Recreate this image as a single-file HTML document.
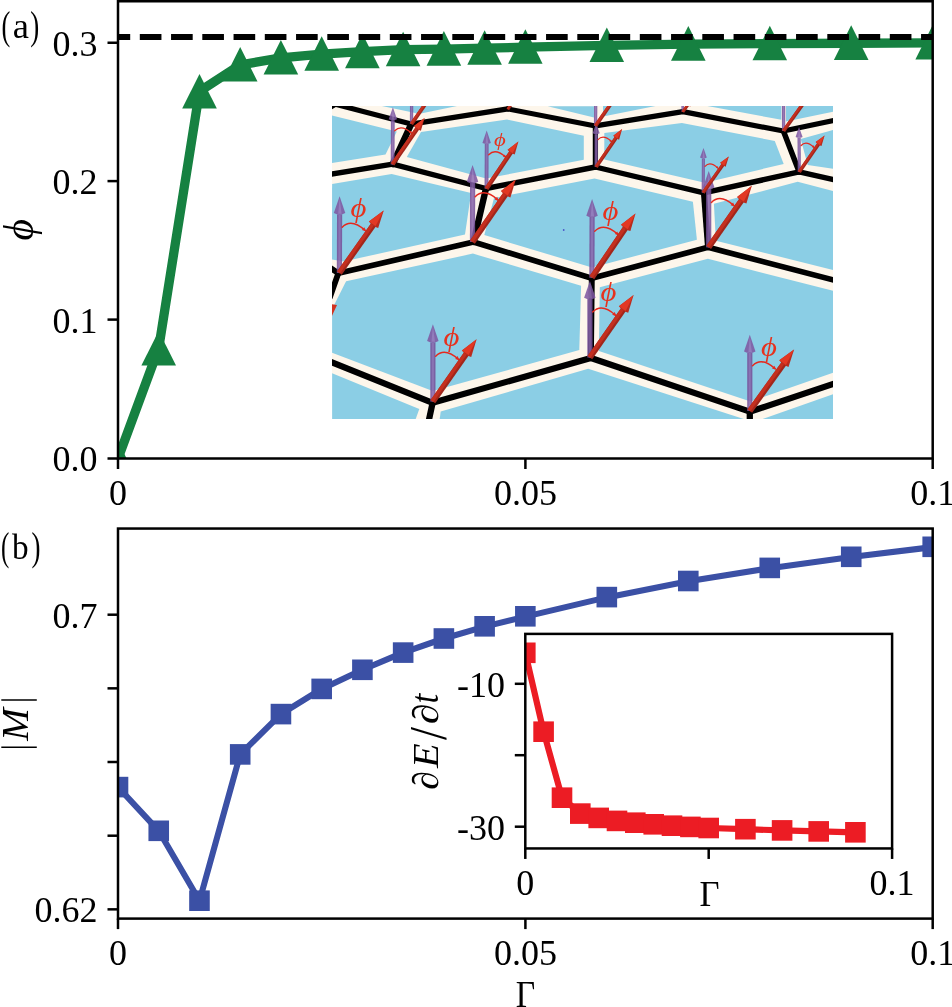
<!DOCTYPE html>
<html><head><meta charset="utf-8"><title>figure</title><style>html,body{margin:0;padding:0;background:#fff;}body{width:952px;height:1007px;overflow:hidden;}svg{display:block;will-change:transform;}text{font-family:"Liberation Serif",serif;fill:#000;}.it{font-style:italic;}</style></head><body>
<svg width="952" height="1007" viewBox="0 0 952 1007">
<rect width="952" height="1007" fill="#fff"/>
<defs>
<clipPath id="ca"><rect x="118.0" y="1.25" width="814.7" height="457.25"/></clipPath>
<clipPath id="ci"><rect x="332.0" y="105.9" width="501.0" height="313.0"/></clipPath>
<clipPath id="cb"><rect x="118.0" y="528.55" width="814.7" height="390.05000000000007"/></clipPath>
<clipPath id="cj"><rect x="525.3" y="633.9" width="366.80000000000007" height="214.55000000000007"/></clipPath>
</defs>
<g clip-path="url(#ci)">
<rect x="332.0" y="105.9" width="501.0" height="313.0" fill="#FDF6EB"/>
<polygon points="332.0,115.5 396.8,131.5 385.5,154.6 332.0,163.0" fill="#8BCEE5"/>
<polygon points="381.9,106.0 413.0,112.4 418.5,114.0 457.0,106.0" fill="#8BCEE5"/>
<polygon points="421.0,132.0 507.0,119.6 583.8,135.7 583.8,159.8 486.0,178.5 406.8,157.1" fill="#8BCEE5"/>
<polygon points="332.1,183.9 391.6,174.1 471.1,192.9 465.0,234.4 343.5,261.6 332.0,259.5" fill="#8BCEE5"/>
<polygon points="547.7,106.2 594.0,117.5 594.0,106.2" fill="#8BCEE5"/>
<polygon points="603.0,106.0 603.0,116.4 655.5,106.0" fill="#8BCEE5"/>
<polygon points="604.3,133.0 681.9,123.0 774.8,140.9 783.7,163.9 704.9,182.8 604.3,159.4" fill="#8BCEE5"/>
<polygon points="594.5,178.6 692.9,201.8 696.9,239.7 592.0,267.5 484.3,235.0 494.0,198.0" fill="#8BCEE5"/>
<polygon points="707.3,106.0 781.4,119.8 781.4,106.0" fill="#8BCEE5"/>
<polygon points="786.0,106.0 833.2,106.0 833.2,111.8 786.0,121.5" fill="#8BCEE5"/>
<polygon points="800.7,138.9 833.2,130.0 833.2,168.9 807.7,164.9" fill="#8BCEE5"/>
<polygon points="797.7,181.8 833.2,191.0 833.2,270.0 715.9,240.7 713.9,203.8" fill="#8BCEE5"/>
<polygon points="346.1,281.2 472.9,253.6 581.1,285.7 579.3,350.0 432.7,391.1 332.1,352.7 332.1,309.0" fill="#8BCEE5"/>
<polygon points="332.1,373.2 419.3,408.9 415.7,419.0 332.1,419.0" fill="#8BCEE5"/>
<polygon points="440.7,411.6 588.2,368.8 743.8,419.0 439.7,419.0" fill="#8BCEE5"/>
<polygon points="599.8,287.3 707.9,258.8 833.2,290.9 833.2,372.7 750.5,401.6 598.9,350.9" fill="#8BCEE5"/>
<polygon points="762.6,419.0 833.2,394.2 833.2,419.0" fill="#8BCEE5"/>
<g stroke="#000" stroke-linecap="round" fill="none">
<line x1="335.5" y1="104.3" x2="411.2" y2="124.1" stroke-width="5.20"/>
<line x1="335.5" y1="104.3" x2="329.0" y2="107.8" stroke-width="5.20"/>
<line x1="411.2" y1="124.1" x2="507.9" y2="108.9" stroke-width="5.14"/>
<line x1="507.9" y1="108.9" x2="595.4" y2="125.9" stroke-width="5.14"/>
<line x1="595.4" y1="125.9" x2="682.9" y2="111.6" stroke-width="5.15"/>
<line x1="682.9" y1="111.6" x2="783.4" y2="131.0" stroke-width="5.16"/>
<line x1="783.4" y1="131.0" x2="836.0" y2="120.0" stroke-width="5.17"/>
<line x1="411.2" y1="124.1" x2="392.7" y2="164.2" stroke-width="6.40"/>
<line x1="392.7" y1="164.2" x2="330.0" y2="174.3" stroke-width="5.34"/>
<line x1="392.7" y1="164.2" x2="486.0" y2="188.5" stroke-width="5.37"/>
<line x1="486.0" y1="188.5" x2="595.4" y2="167.0" stroke-width="5.38"/>
<line x1="595.4" y1="125.9" x2="595.4" y2="167.0" stroke-width="5.26"/>
<line x1="595.4" y1="167.0" x2="703.9" y2="192.8" stroke-width="5.38"/>
<line x1="703.9" y1="192.8" x2="799.2" y2="171.9" stroke-width="5.39"/>
<line x1="783.4" y1="131.0" x2="799.2" y2="171.9" stroke-width="5.50"/>
<line x1="799.2" y1="171.9" x2="836.0" y2="180.1" stroke-width="5.37"/>
<line x1="486.0" y1="188.5" x2="473.5" y2="242.0" stroke-width="6.40"/>
<line x1="473.5" y1="242.0" x2="338.3" y2="273.2" stroke-width="5.68"/>
<line x1="338.3" y1="273.2" x2="330.0" y2="297.0" stroke-width="5.79"/>
<line x1="338.3" y1="273.2" x2="329.0" y2="267.0" stroke-width="5.73"/>
<line x1="473.5" y1="242.0" x2="591.8" y2="278.2" stroke-width="5.69"/>
<line x1="591.8" y1="278.2" x2="708.0" y2="247.3" stroke-width="5.70"/>
<line x1="703.9" y1="192.8" x2="708.0" y2="247.3" stroke-width="6.00"/>
<line x1="708.0" y1="247.3" x2="836.0" y2="280.7" stroke-width="5.71"/>
<line x1="591.8" y1="278.2" x2="590.9" y2="358.0" stroke-width="5.91"/>
<line x1="590.9" y1="358.0" x2="432.6" y2="402.8" stroke-width="6.15"/>
<line x1="432.6" y1="402.8" x2="330.0" y2="361.6" stroke-width="6.16"/>
<line x1="432.6" y1="402.8" x2="428.7" y2="421.0" stroke-width="6.27"/>
<line x1="590.9" y1="358.0" x2="749.8" y2="411.7" stroke-width="6.17"/>
<line x1="749.8" y1="411.7" x2="836.0" y2="383.1" stroke-width="6.22"/>
<line x1="749.8" y1="411.7" x2="749.8" y2="421.0" stroke-width="6.29"/>
</g>
<circle cx="563.7" cy="230" r="0.9" fill="#4a55c8"/>
<g opacity="0.87"><line x1="339.4" y1="273.0" x2="339.6" y2="214.3" stroke="#77529A" stroke-width="5.2"/><line x1="339.4" y1="273.0" x2="339.6" y2="214.3" stroke="#8966AC" stroke-width="2.1"/><path d="M339.6,196.3 L333.8,213.0 Q339.6,216.0 345.3,213.0 Z" fill="#7F58A2"/><path d="M339.6,198.3 L338.2,213.8 L341.6,213.8 Z" fill="#9472B6"/></g>
<g opacity="0.87"><line x1="392.6" y1="164.4" x2="392.8" y2="120.3" stroke="#77529A" stroke-width="3.8"/><line x1="392.6" y1="164.4" x2="392.8" y2="120.3" stroke="#8966AC" stroke-width="1.5"/><path d="M392.9,107.2 L388.7,119.2 Q392.8,121.4 397.0,119.2 Z" fill="#7F58A2"/><path d="M392.9,108.6 L391.8,119.8 L394.3,119.8 Z" fill="#9472B6"/></g>
<g opacity="0.87"><line x1="411.5" y1="124.1" x2="411.7" y2="91.3" stroke="#77529A" stroke-width="3.3"/><line x1="411.5" y1="124.1" x2="411.7" y2="91.3" stroke="#8966AC" stroke-width="1.3"/><path d="M411.8,80.0 L408.1,90.4 Q411.7,92.2 415.3,90.4 Z" fill="#7F58A2"/><path d="M411.8,81.2 L410.9,90.8 L413.0,90.8 Z" fill="#9472B6"/></g>
<g opacity="0.87"><line x1="486.5" y1="188.7" x2="486.7" y2="144.0" stroke="#77529A" stroke-width="3.9"/><line x1="486.5" y1="188.7" x2="486.7" y2="144.0" stroke="#8966AC" stroke-width="1.6"/><path d="M486.7,130.6 L482.4,143.0 Q486.7,145.2 490.9,143.0 Z" fill="#7F58A2"/><path d="M486.7,132.1 L485.6,143.5 L488.2,143.5 Z" fill="#9472B6"/></g>
<g opacity="0.87"><line x1="472.5" y1="242.0" x2="472.6" y2="183.0" stroke="#77529A" stroke-width="5.2"/><line x1="472.5" y1="242.0" x2="472.6" y2="183.0" stroke="#8966AC" stroke-width="2.1"/><path d="M472.6,165.0 L466.8,181.7 Q472.6,184.7 478.3,181.7 Z" fill="#7F58A2"/><path d="M472.6,167.0 L471.2,182.5 L474.6,182.5 Z" fill="#9472B6"/></g>
<g opacity="0.87"><line x1="595.6" y1="125.9" x2="595.7" y2="91.3" stroke="#77529A" stroke-width="3.3"/><line x1="595.6" y1="125.9" x2="595.7" y2="91.3" stroke="#8966AC" stroke-width="1.3"/><path d="M595.7,80.0 L592.1,90.4 Q595.7,92.2 599.3,90.4 Z" fill="#7F58A2"/><path d="M595.7,81.2 L594.8,90.8 L597.0,90.8 Z" fill="#9472B6"/></g>
<g opacity="0.87"><line x1="596.2" y1="167.0" x2="596.2" y2="134.2" stroke="#77529A" stroke-width="3.2"/><line x1="596.2" y1="167.0" x2="596.2" y2="134.2" stroke="#8966AC" stroke-width="1.3"/><path d="M596.2,123.2 L592.7,133.2 Q596.2,135.0 599.7,133.2 Z" fill="#7F58A2"/><path d="M596.2,124.4 L595.4,133.7 L597.5,133.7 Z" fill="#9472B6"/></g>
<g opacity="0.87"><line x1="591.9" y1="277.7" x2="592.1" y2="217.1" stroke="#77529A" stroke-width="5.2"/><line x1="591.9" y1="277.7" x2="592.1" y2="217.1" stroke="#8966AC" stroke-width="2.1"/><path d="M592.1,199.1 L586.3,215.8 Q592.1,218.8 597.8,215.8 Z" fill="#7F58A2"/><path d="M592.1,201.1 L590.7,216.6 L594.1,216.6 Z" fill="#9472B6"/></g>
<g opacity="0.87"><line x1="703.2" y1="192.8" x2="703.4" y2="158.5" stroke="#77529A" stroke-width="3.1"/><line x1="703.2" y1="192.8" x2="703.4" y2="158.5" stroke="#8966AC" stroke-width="1.2"/><path d="M703.5,147.9 L700.0,157.6 Q703.4,159.3 706.8,157.6 Z" fill="#7F58A2"/><path d="M703.5,149.1 L702.6,158.0 L704.7,158.0 Z" fill="#9472B6"/></g>
<g opacity="0.87"><line x1="708.7" y1="247.4" x2="708.7" y2="188.9" stroke="#77529A" stroke-width="5.2"/><line x1="708.7" y1="247.4" x2="708.7" y2="188.9" stroke="#8966AC" stroke-width="2.1"/><path d="M708.7,170.9 L703.0,187.6 Q708.7,190.6 714.5,187.6 Z" fill="#7F58A2"/><path d="M708.7,172.9 L707.3,188.4 L710.8,188.4 Z" fill="#9472B6"/></g>
<g opacity="0.87"><line x1="783.6" y1="131.0" x2="783.6" y2="91.3" stroke="#77529A" stroke-width="3.3"/><line x1="783.6" y1="131.0" x2="783.6" y2="91.3" stroke="#8966AC" stroke-width="1.3"/><path d="M783.6,80.0 L780.0,90.4 Q783.6,92.2 787.2,90.4 Z" fill="#7F58A2"/><path d="M783.6,81.2 L782.7,90.8 L784.9,90.8 Z" fill="#9472B6"/></g>
<g opacity="0.87"><line x1="799.3" y1="172.0" x2="799.1" y2="137.9" stroke="#77529A" stroke-width="3.2"/><line x1="799.3" y1="172.0" x2="799.1" y2="137.9" stroke="#8966AC" stroke-width="1.3"/><path d="M799.0,126.9 L795.6,136.9 Q799.1,138.7 802.6,136.9 Z" fill="#7F58A2"/><path d="M799.0,128.1 L798.2,137.4 L800.3,137.4 Z" fill="#9472B6"/></g>
<g opacity="0.87"><line x1="682.9" y1="112.0" x2="682.6" y2="101.2" stroke="#77529A" stroke-width="2.7"/><line x1="682.9" y1="112.0" x2="682.6" y2="101.2" stroke="#8966AC" stroke-width="1.1"/><path d="M682.4,92.0 L679.7,100.3 Q682.6,101.8 685.6,100.3 Z" fill="#7F58A2"/><path d="M682.4,93.0 L681.9,100.7 L683.7,100.7 Z" fill="#9472B6"/></g>
<g opacity="0.87"><line x1="432.9" y1="401.6" x2="432.9" y2="342.3" stroke="#77529A" stroke-width="5.2"/><line x1="432.9" y1="401.6" x2="432.9" y2="342.3" stroke="#8966AC" stroke-width="2.1"/><path d="M432.9,324.3 L427.1,341.0 Q432.9,344.0 438.6,341.0 Z" fill="#7F58A2"/><path d="M432.9,326.3 L431.5,341.8 L435.0,341.8 Z" fill="#9472B6"/></g>
<g opacity="0.87"><line x1="589.9" y1="357.6" x2="589.9" y2="299.0" stroke="#77529A" stroke-width="5.2"/><line x1="589.9" y1="357.6" x2="589.9" y2="299.0" stroke="#8966AC" stroke-width="2.1"/><path d="M589.9,281.0 L584.1,297.7 Q589.9,300.7 595.6,297.7 Z" fill="#7F58A2"/><path d="M589.9,283.0 L588.5,298.5 L592.0,298.5 Z" fill="#9472B6"/></g>
<g opacity="0.87"><line x1="749.8" y1="411.0" x2="749.8" y2="352.8" stroke="#77529A" stroke-width="5.2"/><line x1="749.8" y1="411.0" x2="749.8" y2="352.8" stroke="#8966AC" stroke-width="2.1"/><path d="M749.8,334.8 L744.0,351.5 Q749.8,354.5 755.5,351.5 Z" fill="#7F58A2"/><path d="M749.8,336.8 L748.4,352.3 L751.9,352.3 Z" fill="#9472B6"/></g>
<path d="M342.2,227.2 Q351.3,217.9 365.1,230.4" stroke="#E6281D" stroke-width="1.45" fill="none" stroke-linecap="round"/><polygon points="366.2,231.3 361.9,229.9 364.3,227.2" fill="#E6281D"/>
<g><line x1="339.4" y1="273.0" x2="374.2" y2="223.9" stroke="#A1261B" stroke-width="5.7"/><line x1="338.6" y1="272.4" x2="373.3" y2="223.3" stroke="#C42F1F" stroke-width="3.5"/><path d="M383.7,210.4 L368.9,221.4 Q372.4,226.3 378.2,228.0 Z" fill="#B92B1D"/><path d="M383.7,210.4 L368.9,221.4 L375.6,226.1 Z" fill="#E23823"/></g>
<text class="it" style="fill:#E6321E" transform="translate(350.60,216.79) scale(0.8526,0.7442)" font-size="36">ϕ</text>
<path d="M394.7,130.8 Q401.3,123.9 411.4,133.1" stroke="#E6281D" stroke-width="1.30" fill="none" stroke-linecap="round"/><polygon points="412.2,133.8 409.0,132.7 410.9,130.7" fill="#E6281D"/>
<g><line x1="392.6" y1="164.4" x2="418.0" y2="127.5" stroke="#A1261B" stroke-width="4.2"/><line x1="392.0" y1="164.0" x2="417.4" y2="127.1" stroke="#C42F1F" stroke-width="2.6"/><path d="M424.6,118.0 L414.0,126.0 Q416.6,129.6 420.9,130.7 Z" fill="#B92B1D"/><path d="M424.6,118.0 L414.0,126.0 L419.0,129.4 Z" fill="#E23823"/></g>
<g><line x1="411.5" y1="124.1" x2="431.0" y2="96.1" stroke="#A1261B" stroke-width="3.6"/><line x1="411.0" y1="123.7" x2="430.4" y2="95.7" stroke="#C42F1F" stroke-width="2.3"/><path d="M436.6,88.0 L427.4,94.8 Q429.7,97.9 433.4,99.0 Z" fill="#B92B1D"/><path d="M436.6,88.0 L427.4,94.8 L431.7,97.8 Z" fill="#E23823"/></g>
<path d="M488.7,154.7 Q495.3,147.8 505.5,157.0" stroke="#E6281D" stroke-width="1.31" fill="none" stroke-linecap="round"/><polygon points="506.3,157.8 503.0,156.7 504.9,154.6" fill="#E6281D"/>
<g><line x1="486.5" y1="188.7" x2="511.7" y2="151.4" stroke="#A1261B" stroke-width="4.3"/><line x1="485.9" y1="188.3" x2="511.1" y2="151.0" stroke="#C42F1F" stroke-width="2.7"/><path d="M518.4,141.5 L507.6,149.8 Q510.3,153.5 514.7,154.6 Z" fill="#B92B1D"/><path d="M518.4,141.5 L507.6,149.8 L512.7,153.3 Z" fill="#E23823"/></g>
<text class="it" style="fill:#E6321E" transform="translate(493.91,146.41) scale(0.6310,0.5507)" font-size="36">ϕ</text>
<path d="M475.2,196.8 Q484.2,187.6 497.8,199.9" stroke="#E6281D" stroke-width="1.45" fill="none" stroke-linecap="round"/><polygon points="498.9,200.9 494.6,199.5 497.1,196.7" fill="#E6281D"/>
<g><line x1="472.5" y1="242.0" x2="506.3" y2="193.4" stroke="#A1261B" stroke-width="5.7"/><line x1="471.7" y1="241.4" x2="505.4" y2="192.8" stroke="#C42F1F" stroke-width="3.5"/><path d="M515.7,179.8 L501.0,190.9 Q504.6,195.8 510.4,197.4 Z" fill="#B92B1D"/><path d="M515.7,179.8 L501.0,190.9 L507.8,195.6 Z" fill="#E23823"/></g>
<g><line x1="507.9" y1="109.4" x2="512.6" y2="102.4" stroke="#A1261B" stroke-width="3.0"/><line x1="507.5" y1="109.1" x2="512.2" y2="102.1" stroke="#C42F1F" stroke-width="1.9"/><path d="M517.0,96.0 L509.6,101.6 Q511.5,104.1 514.5,104.9 Z" fill="#B92B1D"/><path d="M517.0,96.0 L509.6,101.6 L513.2,104.0 Z" fill="#E23823"/></g>
<g><line x1="595.6" y1="125.9" x2="616.4" y2="96.1" stroke="#A1261B" stroke-width="3.6"/><line x1="595.1" y1="125.5" x2="615.8" y2="95.7" stroke="#C42F1F" stroke-width="2.3"/><path d="M622.0,88.0 L612.8,94.8 Q615.1,97.9 618.8,99.0 Z" fill="#B92B1D"/><path d="M622.0,88.0 L612.8,94.8 L617.1,97.8 Z" fill="#E23823"/></g>
<path d="M598.0,139.6 Q603.3,134.0 611.4,141.5" stroke="#E6281D" stroke-width="1.23" fill="none" stroke-linecap="round"/><polygon points="612.1,142.1 609.3,141.2 610.9,139.4" fill="#E6281D"/>
<g><line x1="596.2" y1="167.0" x2="616.7" y2="136.9" stroke="#A1261B" stroke-width="3.5"/><line x1="595.7" y1="166.6" x2="616.2" y2="136.6" stroke="#C42F1F" stroke-width="2.2"/><path d="M622.1,129.1 L613.3,135.8 Q615.5,138.8 619.1,139.7 Z" fill="#B92B1D"/><path d="M622.1,129.1 L613.3,135.8 L617.4,138.6 Z" fill="#E23823"/></g>
<path d="M594.7,231.3 Q603.9,221.9 618.0,234.5" stroke="#E6281D" stroke-width="1.45" fill="none" stroke-linecap="round"/><polygon points="619.1,235.5 614.8,234.1 617.2,231.4" fill="#E6281D"/>
<g><line x1="591.9" y1="277.7" x2="626.2" y2="227.1" stroke="#A1261B" stroke-width="5.7"/><line x1="591.1" y1="277.1" x2="625.4" y2="226.5" stroke="#C42F1F" stroke-width="3.5"/><path d="M635.5,213.4 L621.0,224.7 Q624.6,229.5 630.4,231.1 Z" fill="#B92B1D"/><path d="M635.5,213.4 L621.0,224.7 L627.8,229.3 Z" fill="#E23823"/></g>
<text class="it" style="fill:#E6321E" transform="translate(602.40,219.79) scale(0.8526,0.7442)" font-size="36">ϕ</text>
<path d="M705.0,166.3 Q710.1,160.9 717.9,168.1" stroke="#E6281D" stroke-width="1.22" fill="none" stroke-linecap="round"/><polygon points="718.6,168.7 715.9,167.8 717.4,166.1" fill="#E6281D"/>
<g><line x1="703.2" y1="192.8" x2="723.5" y2="164.0" stroke="#A1261B" stroke-width="3.4"/><line x1="702.7" y1="192.4" x2="723.0" y2="163.6" stroke="#C42F1F" stroke-width="2.1"/><path d="M728.8,156.5 L720.2,162.8 Q722.3,165.7 725.7,166.7 Z" fill="#B92B1D"/><path d="M728.8,156.5 L720.2,162.8 L724.2,165.7 Z" fill="#E23823"/></g>
<path d="M711.4,202.5 Q720.4,193.4 733.8,205.6" stroke="#E6281D" stroke-width="1.45" fill="none" stroke-linecap="round"/><polygon points="734.9,206.6 730.6,205.2 733.1,202.4" fill="#E6281D"/>
<g><line x1="708.7" y1="247.4" x2="742.3" y2="199.3" stroke="#A1261B" stroke-width="5.7"/><line x1="707.9" y1="246.8" x2="741.5" y2="198.7" stroke="#C42F1F" stroke-width="3.5"/><path d="M751.8,185.8 L737.1,196.9 Q740.6,201.8 746.4,203.4 Z" fill="#B92B1D"/><path d="M751.8,185.8 L737.1,196.9 L743.8,201.6 Z" fill="#E23823"/></g>
<g><line x1="783.6" y1="131.0" x2="804.1" y2="102.5" stroke="#A1261B" stroke-width="3.6"/><line x1="783.1" y1="130.6" x2="803.5" y2="102.1" stroke="#C42F1F" stroke-width="2.3"/><path d="M809.8,94.5 L800.5,101.2 Q802.7,104.3 806.4,105.4 Z" fill="#B92B1D"/><path d="M809.8,94.5 L800.5,101.2 L804.8,104.2 Z" fill="#E23823"/></g>
<path d="M801.1,145.5 Q806.2,140.1 813.9,147.3" stroke="#E6281D" stroke-width="1.23" fill="none" stroke-linecap="round"/><polygon points="814.6,147.9 811.8,147.0 813.5,145.3" fill="#E6281D"/>
<g><line x1="799.3" y1="172.0" x2="819.2" y2="143.3" stroke="#A1261B" stroke-width="3.5"/><line x1="798.8" y1="171.6" x2="818.7" y2="142.9" stroke="#C42F1F" stroke-width="2.2"/><path d="M824.6,135.5 L815.7,142.1 Q817.9,145.1 821.5,146.1 Z" fill="#B92B1D"/><path d="M824.6,135.5 L815.7,142.1 L819.9,145.0 Z" fill="#E23823"/></g>
<g><line x1="682.9" y1="112.0" x2="688.6" y2="103.9" stroke="#A1261B" stroke-width="3.0"/><line x1="682.5" y1="111.7" x2="688.1" y2="103.6" stroke="#C42F1F" stroke-width="1.9"/><path d="M693.0,97.5 L685.6,103.0 Q687.4,105.5 690.4,106.4 Z" fill="#B92B1D"/><path d="M693.0,97.5 L685.6,103.0 L689.1,105.4 Z" fill="#E23823"/></g>
<path d="M435.7,356.2 Q444.7,347.0 458.4,359.3" stroke="#E6281D" stroke-width="1.45" fill="none" stroke-linecap="round"/><polygon points="459.4,360.3 455.2,358.9 457.6,356.1" fill="#E6281D"/>
<g><line x1="432.9" y1="401.6" x2="467.1" y2="352.8" stroke="#A1261B" stroke-width="5.7"/><line x1="432.1" y1="401.0" x2="466.3" y2="352.2" stroke="#C42F1F" stroke-width="3.5"/><path d="M476.6,339.3 L461.9,350.4 Q465.4,355.3 471.2,356.9 Z" fill="#B92B1D"/><path d="M476.6,339.3 L461.9,350.4 L468.6,355.1 Z" fill="#E23823"/></g>
<text class="it" style="fill:#E6321E" transform="translate(443.50,345.69) scale(0.8526,0.7442)" font-size="36">ϕ</text>
<path d="M592.7,312.1 Q601.7,302.8 615.4,315.2" stroke="#E6281D" stroke-width="1.45" fill="none" stroke-linecap="round"/><polygon points="616.5,316.2 612.2,314.8 614.7,312.0" fill="#E6281D"/>
<g><line x1="589.9" y1="357.6" x2="624.1" y2="308.6" stroke="#A1261B" stroke-width="5.7"/><line x1="589.1" y1="357.0" x2="623.3" y2="308.0" stroke="#C42F1F" stroke-width="3.5"/><path d="M633.6,295.1 L618.9,306.2 Q622.4,311.1 628.2,312.7 Z" fill="#B92B1D"/><path d="M633.6,295.1 L618.9,306.2 L625.6,310.9 Z" fill="#E23823"/></g>
<text class="it" style="fill:#E6321E" transform="translate(600.50,301.49) scale(0.8526,0.7442)" font-size="36">ϕ</text>
<path d="M752.6,365.7 Q761.6,356.5 775.2,368.8" stroke="#E6281D" stroke-width="1.45" fill="none" stroke-linecap="round"/><polygon points="776.2,369.8 772.0,368.4 774.4,365.7" fill="#E6281D"/>
<g><line x1="749.8" y1="411.0" x2="784.5" y2="362.8" stroke="#A1261B" stroke-width="5.7"/><line x1="749.0" y1="410.4" x2="783.6" y2="362.2" stroke="#C42F1F" stroke-width="3.5"/><path d="M794.1,349.4 L779.3,360.3 Q782.7,365.2 788.5,366.9 Z" fill="#B92B1D"/><path d="M794.1,349.4 L779.3,360.3 L785.9,365.1 Z" fill="#E23823"/></g>
<text class="it" style="fill:#E6321E" transform="translate(761.00,355.79) scale(0.8526,0.7442)" font-size="36">ϕ</text>
<polygon points="331,318 331,304 337,305" fill="#D2321F"/>
</g>
<g clip-path="url(#ca)">
<polyline points="118.0,458.50 158.7,348.20 199.5,91.30 240.2,64.95 280.9,57.95 321.7,54.15 362.4,51.65 403.1,49.65 443.9,49.05 484.6,48.15 525.4,47.15 606.8,45.45 688.3,44.05 769.8,43.65 851.2,43.25 932.7,42.95" fill="none" stroke="#168141" stroke-width="9.3" stroke-linejoin="miter"/>
<polygon points="118.0,441.2 100.7,475.8 135.3,475.8" fill="#168141"/>
<polygon points="158.7,330.9 141.4,365.5 176.0,365.5" fill="#168141"/>
<polygon points="199.5,74.0 182.2,108.6 216.8,108.6" fill="#168141"/>
<polygon points="240.2,47.0 222.9,81.6 257.5,81.6" fill="#168141"/>
<polygon points="280.9,40.0 263.6,74.6 298.2,74.6" fill="#168141"/>
<polygon points="321.7,36.2 304.4,70.8 339.0,70.8" fill="#168141"/>
<polygon points="362.4,33.7 345.1,68.3 379.7,68.3" fill="#168141"/>
<polygon points="403.1,31.7 385.8,66.3 420.4,66.3" fill="#168141"/>
<polygon points="443.9,31.1 426.6,65.7 461.2,65.7" fill="#168141"/>
<polygon points="484.6,30.2 467.3,64.8 501.9,64.8" fill="#168141"/>
<polygon points="525.4,29.2 508.1,63.8 542.6,63.8" fill="#168141"/>
<polygon points="606.8,27.5 589.5,62.1 624.1,62.1" fill="#168141"/>
<polygon points="688.3,26.1 671.0,60.7 705.6,60.7" fill="#168141"/>
<polygon points="769.8,25.7 752.5,60.3 787.1,60.3" fill="#168141"/>
<polygon points="851.2,25.3 833.9,59.9 868.5,59.9" fill="#168141"/>
<polygon points="932.7,25.0 915.4,59.6 950.0,59.6" fill="#168141"/>
<line x1="108.55" y1="37.1" x2="932.7" y2="37.1" stroke="#000" stroke-width="6.0" stroke-dasharray="21.65 9.6"/>
</g>
<rect x="118.0" y="1.25" width="814.7" height="457.25" fill="none" stroke="#000" stroke-width="2.5"/>
<line x1="107.5" y1="458.5" x2="118.0" y2="458.5" stroke="#000" stroke-width="2.5"/>
<text x="97.4" y="471.4" font-size="36" text-anchor="end">0.0</text>
<line x1="107.5" y1="319.6" x2="118.0" y2="319.6" stroke="#000" stroke-width="2.5"/>
<text x="97.4" y="332.5" font-size="36" text-anchor="end">0.1</text>
<line x1="107.5" y1="181.1" x2="118.0" y2="181.1" stroke="#000" stroke-width="2.5"/>
<text x="97.4" y="194.0" font-size="36" text-anchor="end">0.2</text>
<line x1="107.5" y1="42.75" x2="118.0" y2="42.75" stroke="#000" stroke-width="2.5"/>
<text x="97.4" y="55.6" font-size="36" text-anchor="end">0.3</text>
<line x1="118.0" y1="458.5" x2="118.0" y2="469.0" stroke="#000" stroke-width="2.5"/>
<text x="118.0" y="504.5" font-size="36" text-anchor="middle">0</text>
<line x1="525.4" y1="458.5" x2="525.4" y2="469.0" stroke="#000" stroke-width="2.5"/>
<text x="525.4" y="504.5" font-size="36" text-anchor="middle">0.05</text>
<line x1="932.7" y1="458.5" x2="932.7" y2="469.0" stroke="#000" stroke-width="2.5"/>
<text x="932.7" y="504.5" font-size="36" text-anchor="middle">0.1</text>
<text transform="translate(1.40,39.10) scale(0.7341,1.1087)" font-size="36">(</text>
<text transform="translate(12.70,37.95) scale(1.0135,0.9685)" font-size="36">a</text>
<text transform="translate(30.30,39.10) scale(0.7508,1.1087)" font-size="36">)</text>
<text class="it" transform="translate(33.22,240.40) rotate(-90) scale(1.1476,1.1454)" font-size="36">ϕ</text>
<g clip-path="url(#cb)">
<polyline points="118.0,787.10 158.7,830.80 199.5,900.70 240.2,754.40 280.9,714.10 321.7,688.90 362.4,669.80 403.1,652.60 443.9,638.50 484.6,626.60 525.4,616.60 606.8,597.40 688.3,581.30 769.8,568.20 851.2,557.10 932.7,547.10" fill="none" stroke="#3B50A5" stroke-width="6.1" stroke-linejoin="round"/>
<rect x="107.70" y="776.80" width="20.6" height="20.6" fill="#3B50A5"/>
<rect x="148.44" y="820.50" width="20.6" height="20.6" fill="#3B50A5"/>
<rect x="189.17" y="890.40" width="20.6" height="20.6" fill="#3B50A5"/>
<rect x="229.90" y="744.10" width="20.6" height="20.6" fill="#3B50A5"/>
<rect x="270.64" y="703.80" width="20.6" height="20.6" fill="#3B50A5"/>
<rect x="311.38" y="678.60" width="20.6" height="20.6" fill="#3B50A5"/>
<rect x="352.11" y="659.50" width="20.6" height="20.6" fill="#3B50A5"/>
<rect x="392.85" y="642.30" width="20.6" height="20.6" fill="#3B50A5"/>
<rect x="433.58" y="628.20" width="20.6" height="20.6" fill="#3B50A5"/>
<rect x="474.31" y="616.00" width="20.6" height="20.6" fill="#3B50A5"/>
<rect x="515.05" y="606.00" width="20.6" height="20.6" fill="#3B50A5"/>
<rect x="596.52" y="586.80" width="20.6" height="20.6" fill="#3B50A5"/>
<rect x="677.99" y="570.70" width="20.6" height="20.6" fill="#3B50A5"/>
<rect x="759.46" y="557.60" width="20.6" height="20.6" fill="#3B50A5"/>
<rect x="840.93" y="546.50" width="20.6" height="20.6" fill="#3B50A5"/>
<rect x="922.40" y="536.50" width="20.6" height="20.6" fill="#3B50A5"/>
</g>
<rect x="118.0" y="528.55" width="814.7" height="390.05000000000007" fill="none" stroke="#000" stroke-width="2.5"/>
<line x1="107.5" y1="614.7" x2="118.0" y2="614.7" stroke="#000" stroke-width="2.5"/>
<line x1="107.5" y1="688.35" x2="118.0" y2="688.35" stroke="#000" stroke-width="2.5"/>
<line x1="107.5" y1="762.0" x2="118.0" y2="762.0" stroke="#000" stroke-width="2.5"/>
<line x1="107.5" y1="835.7" x2="118.0" y2="835.7" stroke="#000" stroke-width="2.5"/>
<line x1="107.5" y1="909.35" x2="118.0" y2="909.35" stroke="#000" stroke-width="2.5"/>
<text x="97.4" y="627.6" font-size="36" text-anchor="end">0.7</text>
<text x="97.4" y="922.2" font-size="36" text-anchor="end">0.62</text>
<line x1="118.0" y1="918.6" x2="118.0" y2="929.1" stroke="#000" stroke-width="2.5"/>
<text x="118.0" y="964.5" font-size="36" text-anchor="middle">0</text>
<line x1="525.4" y1="918.6" x2="525.4" y2="929.1" stroke="#000" stroke-width="2.5"/>
<text x="525.4" y="964.5" font-size="36" text-anchor="middle">0.05</text>
<line x1="932.7" y1="918.6" x2="932.7" y2="929.1" stroke="#000" stroke-width="2.5"/>
<text x="932.7" y="964.5" font-size="36" text-anchor="middle">0.1</text>
<text transform="translate(515.70,1007.10) scale(0.9323,1.0433)" font-size="36">Γ</text>
<text transform="translate(0.90,559.52) scale(0.6924,1.1056)" font-size="36">(</text>
<text transform="translate(12.10,559.03) scale(0.9222,1.0140)" font-size="36">b</text>
<text transform="translate(31.40,559.52) scale(0.7508,1.1056)" font-size="36">)</text>
<text class="it" transform="translate(27.80,740.63) rotate(-90) scale(1.0880,1.0433)" font-size="36">M</text>
<line x1="1.3" y1="700" x2="36.8" y2="700" stroke="#000" stroke-width="1.5"/>
<line x1="1.3" y1="747.2" x2="36.8" y2="747.2" stroke="#000" stroke-width="1.5"/>
<rect x="525.3" y="633.9" width="366.80000000000007" height="214.55000000000007" fill="#fff"/>
<g clip-path="url(#cj)">
<polyline points="525.3,652.8 543.6,731.7 562.0,797.7 580.3,813.6 598.7,817.9 617.0,820.9 635.3,822.7 653.7,824.3 672.0,825.7 690.4,826.9 708.7,828.0 745.4,829.2 782.1,830.4 818.7,831.4 855.4,832.3" fill="none" stroke="#EC1C24" stroke-width="6.2" stroke-linejoin="round"/>
<rect x="515.0" y="642.5" width="20.6" height="20.6" fill="#EC1C24"/>
<rect x="533.3" y="721.4" width="20.6" height="20.6" fill="#EC1C24"/>
<rect x="551.7" y="787.4" width="20.6" height="20.6" fill="#EC1C24"/>
<rect x="570.0" y="803.3" width="20.6" height="20.6" fill="#EC1C24"/>
<rect x="588.4" y="807.6" width="20.6" height="20.6" fill="#EC1C24"/>
<rect x="606.7" y="810.6" width="20.6" height="20.6" fill="#EC1C24"/>
<rect x="625.0" y="812.4" width="20.6" height="20.6" fill="#EC1C24"/>
<rect x="643.4" y="814.0" width="20.6" height="20.6" fill="#EC1C24"/>
<rect x="661.7" y="815.4" width="20.6" height="20.6" fill="#EC1C24"/>
<rect x="680.1" y="816.6" width="20.6" height="20.6" fill="#EC1C24"/>
<rect x="698.4" y="817.7" width="20.6" height="20.6" fill="#EC1C24"/>
<rect x="735.1" y="818.9" width="20.6" height="20.6" fill="#EC1C24"/>
<rect x="771.8" y="820.1" width="20.6" height="20.6" fill="#EC1C24"/>
<rect x="808.4" y="821.1" width="20.6" height="20.6" fill="#EC1C24"/>
<rect x="845.1" y="822.0" width="20.6" height="20.6" fill="#EC1C24"/>
</g>
<rect x="525.3" y="633.9" width="366.80000000000007" height="214.55000000000007" fill="none" stroke="#000" stroke-width="2.5"/>
<line x1="514.8" y1="683.8" x2="525.3" y2="683.8" stroke="#000" stroke-width="2.5"/>
<line x1="514.8" y1="755.2" x2="525.3" y2="755.2" stroke="#000" stroke-width="2.5"/>
<line x1="514.8" y1="826.7" x2="525.3" y2="826.7" stroke="#000" stroke-width="2.5"/>
<text x="505" y="697.0" font-size="36" text-anchor="end">-10</text>
<text x="505" y="839.8" font-size="36" text-anchor="end">-30</text>
<line x1="525.3" y1="848.45" x2="525.3" y2="858.95" stroke="#000" stroke-width="2.5"/>
<line x1="708.7" y1="848.45" x2="708.7" y2="858.95" stroke="#000" stroke-width="2.5"/>
<line x1="892.1" y1="848.45" x2="892.1" y2="858.95" stroke="#000" stroke-width="2.5"/>
<text x="525.3" y="895.4" font-size="36" text-anchor="middle">0</text>
<text x="892.1" y="895.4" font-size="36" text-anchor="middle">0.1</text>
<text transform="translate(699.40,905.50) scale(0.9612,0.9669)" font-size="36">Γ</text>
<text class="it" transform="translate(438.33,789.80) rotate(-90) scale(1.0459,1.0104)" font-size="36">∂</text>
<text class="it" transform="translate(438.30,768.02) rotate(-90) scale(1.1191,1.0178)" font-size="36">E</text>
<text transform="translate(445.98,740.10) rotate(-90) scale(1.3090,1.4491)" font-size="36">/</text>
<text class="it" transform="translate(438.33,724.30) rotate(-90) scale(1.1640,1.0104)" font-size="36">∂</text>
<text class="it" transform="translate(438.40,703.60) rotate(-90) scale(0.9694,1.1101)" font-size="36">t</text>
</svg></body></html>
